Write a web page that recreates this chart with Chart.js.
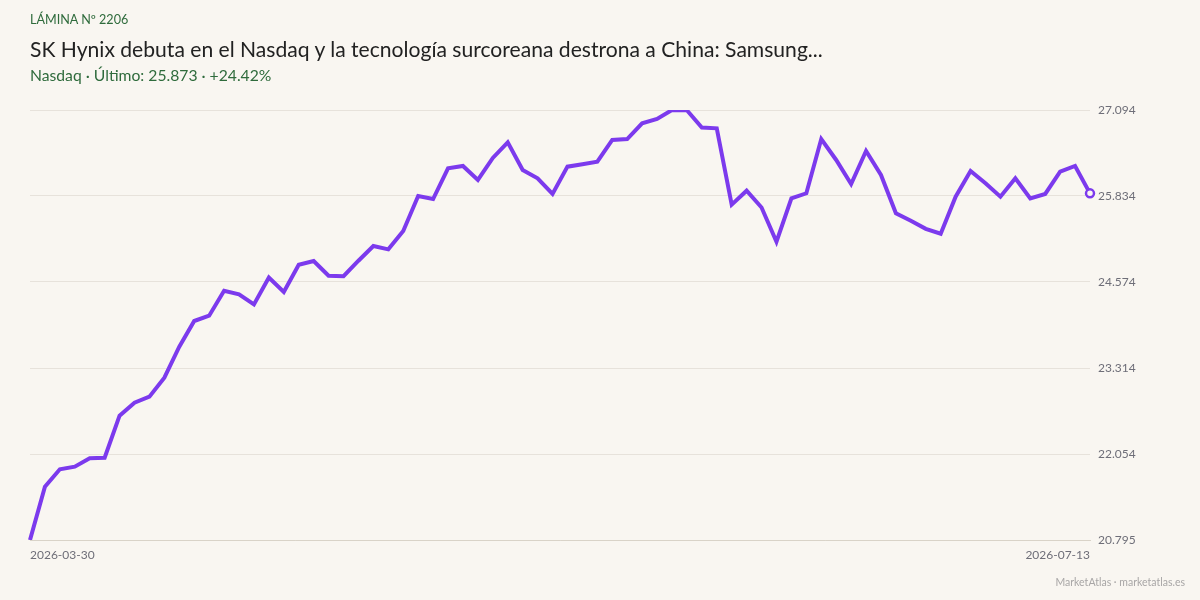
<!DOCTYPE html>
<html>
<head>
<meta charset="utf-8">
<script src="https://cdn.jsdelivr.net/npm/chart.js@4/dist/chart.umd.min.js"></script>
<style>
  html, body { margin: 0; padding: 0; }
  body { width: 1200px; height: 600px; background: #f9f6f1; position: relative; overflow: hidden; font-family: Lato, "Open Sans", sans-serif; }
  #wrap { position: absolute; left: 0; top: 0; width: 1200px; height: 600px; }
  .kicker { position: absolute; left: 30px; top: 12px; font-size: 12.6px; color: #2f6b3c; }
  .title { position: absolute; left: 30px; top: 36px; font-size: 21.1px; color: #222; }
  .sub { position: absolute; left: 30px; top: 66px; font-size: 15.7px; color: #2f6b3c; }
  .foot { position: absolute; right: 15px; top: 576px; font-size: 10.5px; color: #a8a6a6; }
</style>
</head>
<body>
<div id="wrap"><canvas id="c" width="1200" height="600"></canvas></div>
<div class="kicker">LÁMINA Nº 2206</div>
<div class="title">SK Hynix debuta en el Nasdaq y la tecnología surcoreana destrona a China: Samsung...</div>
<div class="sub">Nasdaq · Último: 25.873 · +24.42%</div>
<div class="foot">MarketAtlas · marketatlas.es</div>
<script>
const dates = [
  "2026-03-30","2026-03-31","2026-04-01","2026-04-02","2026-04-06","2026-04-07","2026-04-08","2026-04-09","2026-04-10",
  "2026-04-13","2026-04-14","2026-04-15","2026-04-16","2026-04-17","2026-04-20","2026-04-21","2026-04-22","2026-04-23","2026-04-24",
  "2026-04-27","2026-04-28","2026-04-29","2026-04-30","2026-05-01","2026-05-04","2026-05-05","2026-05-06","2026-05-07","2026-05-08",
  "2026-05-11","2026-05-12","2026-05-13","2026-05-14","2026-05-15","2026-05-18","2026-05-19","2026-05-20","2026-05-21","2026-05-22",
  "2026-05-26","2026-05-27","2026-05-28","2026-05-29","2026-06-01","2026-06-02","2026-06-03","2026-06-04","2026-06-05",
  "2026-06-08","2026-06-09","2026-06-10","2026-06-11","2026-06-12","2026-06-15","2026-06-16","2026-06-17","2026-06-18",
  "2026-06-22","2026-06-23","2026-06-24","2026-06-25","2026-06-26","2026-06-29","2026-06-30","2026-07-01","2026-07-02",
  "2026-07-06","2026-07-07","2026-07-08","2026-07-09","2026-07-10","2026-07-13"
];
const nasdaq = [
  20795, 21576, 21831, 21869, 21992, 22000, 22616, 22806, 22894, 23173,
  23627, 24003, 24081, 24447, 24394, 24245, 24640, 24428, 24828, 24882,
  24667, 24660, 24886, 25102, 25053, 25322, 25834, 25790, 26240, 26274,
  26069, 26391, 26621, 26215, 26094, 25864, 26264, 26299, 26337, 26655,
  26669, 26899, 26962, 27094, 27090, 26838, 26826, 25707, 25912, 25666,
  25165, 25800, 25874, 26669, 26362, 26010, 26493, 26142, 25581, 25472,
  25354, 25282, 25824, 26200, 26020, 25824, 26094, 25800, 25864, 26190,
  26274, 25873
];
const yTickValues = [20795, 22054.8, 23314.6, 24574.4, 25834.2, 27094];
const yTickLabels = ["20.795", "22.054", "23.314", "24.574", "25.834", "27.094"];

const lineColor = "#7c3aed";
const last = nasdaq.length - 1;

new Chart(document.getElementById("c"), {
  type: "line",
  data: {
    labels: dates,
    datasets: [{
      data: nasdaq,
      borderColor: lineColor,
      borderWidth: 4,
      tension: 0,
      fill: false,
      pointRadius: nasdaq.map((v, i) => i === last ? 4 : 0),
      pointHoverRadius: 0,
      pointBackgroundColor: "#f9f6f1",
      pointBorderColor: lineColor,
      pointBorderWidth: 2.5,
      borderJoinStyle: "miter"
    }]
  },
  options: {
    responsive: false,
    animation: false,
    events: [],
    layout: { padding: { top: 110, left: 30, right: 0, bottom: 0 } },
    plugins: { legend: { display: false }, tooltip: { enabled: false }, title: { display: false } },
    scales: {
      x: {
        type: "category",
        offset: false,
        grid: { display: false, drawTicks: false },
        border: { display: true, color: "#d9d3c8", width: 1 },
        ticks: {
          autoSkip: false,
          maxRotation: 0,
          minRotation: 0,
          align: "inner",
          padding: 8,
          color: "#6e6e78",
          font: { family: "Lato", size: 12 },
          callback: function (val, idx) {
            return (idx === 0 || idx === last) ? dates[idx] : "";
          }
        },
        afterFit: function (scale) { scale.height = 60; }
      },
      y: {
        position: "right",
        min: 20795,
        max: 27094,
        grid: { color: "#e7e2db", drawTicks: false, lineWidth: 1 },
        border: { display: false },
        ticks: {
          padding: 8,
          color: "#6e6e78",
          font: { family: "Lato", size: 12 },
          callback: function (val) {
            const i = yTickValues.findIndex(t => Math.abs(t - val) < 1);
            return i >= 0 ? yTickLabels[i] : "";
          }
        },
        afterBuildTicks: function (scale) {
          scale.ticks = yTickValues.map(v => ({ value: v }));
        },
        afterFit: function (scale) { scale.width = 110; }
      }
    }
  }
});
</script>
</body>
</html>
